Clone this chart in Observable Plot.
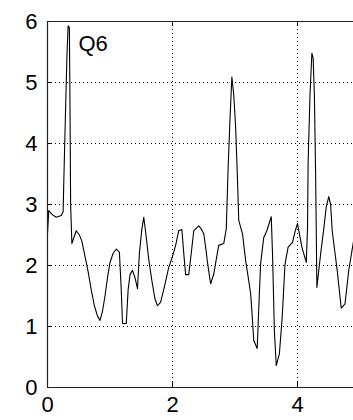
<!DOCTYPE html>
<html>
<head>
<meta charset="utf-8">
<script src="https://cdn.jsdelivr.net/npm/d3@7"></script>
<script src="https://cdn.jsdelivr.net/npm/@observablehq/plot@0.6"></script>
<style>
  html, body { margin: 0; padding: 0; background: #fff; overflow: hidden; }
  #chart { width: 353px; height: 420px; overflow: hidden; }
  #chart svg { display: block; max-width: none !important; width: 360px !important; height: 420px !important; }
</style>
</head>
<body>
<div id="chart"></div>
<script>
const seriesLabel = "Q6";
const xs = [0.0, 0.02, 0.08, 0.14, 0.22, 0.25, 0.26, 0.29, 0.31, 0.33, 0.35, 0.36, 0.37, 0.39, 0.42, 0.46, 0.51, 0.55, 0.6, 0.65, 0.7, 0.75, 0.8, 0.84, 0.88, 0.92, 0.96, 1.0, 1.05, 1.1, 1.15, 1.18, 1.2, 1.26, 1.29, 1.32, 1.36, 1.40, 1.44, 1.47, 1.51, 1.54, 1.57, 1.62, 1.67, 1.72, 1.76, 1.81, 1.87, 1.94, 2.0, 2.05, 2.1, 2.15, 2.18, 2.21, 2.26, 2.3, 2.34, 2.42, 2.46, 2.5, 2.53, 2.56, 2.61, 2.66, 2.7, 2.74, 2.82, 2.86, 2.89, 2.92, 2.95, 2.98, 3.01, 3.04, 3.06, 3.12, 3.17, 3.22, 3.25, 3.28, 3.3, 3.355, 3.38, 3.41, 3.46, 3.51, 3.58, 3.6, 3.63, 3.66, 3.71, 3.755, 3.8, 3.85, 3.92, 3.96, 4.0, 4.07, 4.14, 4.16, 4.17, 4.2, 4.23, 4.25, 4.27, 4.29, 4.31, 4.37, 4.42, 4.46, 4.5, 4.53, 4.555, 4.635, 4.7, 4.76, 4.82, 4.9, 4.95];
const ys = [2.52, 2.9, 2.83, 2.79, 2.82, 2.88, 3.34, 4.6, 5.4, 5.93, 5.9, 4.6, 3.0, 2.36, 2.45, 2.57, 2.5, 2.4, 2.15, 1.9, 1.6, 1.34, 1.17, 1.1, 1.25, 1.5, 1.8, 2.05, 2.2, 2.27, 2.22, 1.6, 1.05, 1.05, 1.6, 1.85, 1.92, 1.8, 1.62, 2.2, 2.6, 2.79, 2.55, 2.1, 1.75, 1.45, 1.34, 1.4, 1.65, 1.97, 2.15, 2.33, 2.57, 2.59, 2.2, 1.85, 1.85, 2.2, 2.57, 2.65, 2.6, 2.52, 2.3, 2.05, 1.7, 1.86, 2.1, 2.33, 2.36, 2.6, 3.6, 4.4, 5.09, 4.8, 4.27, 3.4, 2.74, 2.52, 2.08, 1.75, 1.54, 1.1, 0.77, 0.64, 1.3, 2.03, 2.46, 2.57, 2.8, 2.2, 0.93, 0.36, 0.55, 1.15, 2.02, 2.3, 2.38, 2.55, 2.69, 2.3, 2.05, 2.6, 3.7, 4.8, 5.48, 5.4, 4.8, 3.5, 1.64, 2.19, 2.6, 2.96, 3.13, 3.0, 2.57, 1.92, 1.3, 1.37, 1.92, 2.42, 2.7];
const xTicks = [0, 2, 4];
const yTicks = [0, 1, 2, 3, 4, 5, 6];
const xDomain = [0, 5];
const yDomain = [0, 6];

const data = xs.map((x, i) => ({x, y: ys[i]}));
const font = "'Liberation Sans', Arial, Helvetica, sans-serif";
const W = 360, H = 420, mL = 47, mT = 21, mB = 33, mR = 0.5;
const innerH = H - mT - mB;
const innerW = W - mL - mR;
const tickLen = 5;
const fmt = d => String(d);

const chart = Plot.plot({
  width: W,
  height: H,
  marginLeft: mL,
  marginRight: mR,
  marginTop: mT,
  marginBottom: mB,
  style: {fontFamily: font, background: "#fff", color: "#000", overflow: "visible"},
  x: {domain: xDomain, label: null},
  y: {domain: yDomain, label: null},
  marks: [
    Plot.gridY(yTicks.slice(1, -1), {stroke: "#000", strokeOpacity: 1, strokeWidth: 1, strokeDasharray: "1,3"}),
    Plot.gridX(xTicks.slice(1), {stroke: "#000", strokeOpacity: 1, strokeWidth: 1, strokeDasharray: "1,3"}),
    Plot.line(data, {x: "x", y: "y", stroke: "#000", strokeWidth: 1.1, clip: true}),
    Plot.tickX(xTicks, {x: d => d, insetBottom: innerH - tickLen, stroke: "#000"}),
    Plot.tickX(xTicks, {x: d => d, insetTop: innerH - tickLen, stroke: "#000"}),
    Plot.tickY(yTicks, {y: d => d, insetRight: innerW - tickLen, stroke: "#000"}),
    Plot.ruleX([xDomain[0]], {stroke: "#222", strokeWidth: 1.2}),
    Plot.ruleY([yDomain[0], yDomain[1]], {stroke: "#222", strokeWidth: 1.2}),
    Plot.axisY(yTicks, {tickSize: 0, tickPadding: 10, fontSize: 22, fill: "#000", tickFormat: fmt}),
    Plot.axisX(xTicks, {tickSize: 0, tickPadding: 9, fontSize: 22, fill: "#000", tickFormat: fmt}),
    Plot.text([seriesLabel], {frameAnchor: "top-left", text: d => d, dx: 31, dy: 22, fontSize: 22, fill: "#000", textAnchor: "start", lineAnchor: "middle"})
  ]
});
document.getElementById("chart").appendChild(chart);
</script>
</body>
</html>
